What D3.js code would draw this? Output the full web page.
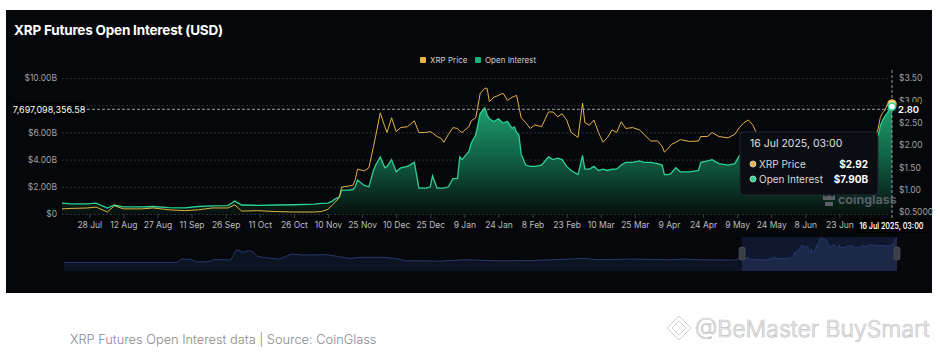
<!DOCTYPE html>
<html>
<head>
<meta charset="utf-8">
<title>XRP Futures Open Interest (USD)</title>
<script src="https://cdn.jsdelivr.net/npm/d3@7"></script>
<style>
  body { margin: 0; background: #fff; }
  svg text { font-family: Inter, "Noto Sans", sans-serif; }
</style>
</head>
<body>
<svg id="chart" width="940" height="355"></svg>
<script>
// values (open interest in billions USD, price in USD)
const dates = ["2024-07-16","2024-07-20","2024-07-27","2024-07-31","2024-08-05","2024-08-08","2024-08-12","2024-08-20","2024-08-25","2024-09-01","2024-09-08","2024-09-14","2024-09-20","2024-09-27","2024-09-30","2024-10-03","2024-10-10","2024-10-18","2024-10-26","2024-11-04","2024-11-07","2024-11-10","2024-11-12","2024-11-13","2024-11-15","2024-11-16","2024-11-19","2024-11-21","2024-11-22","2024-11-23","2024-11-26","2024-11-28","2024-11-30","2024-12-01","2024-12-03","2024-12-05","2024-12-06","2024-12-08","2024-12-10","2024-12-12","2024-12-15","2024-12-18","2024-12-20","2024-12-23","2024-12-25","2024-12-26","2024-12-28","2024-12-30","2024-12-31","2025-01-02","2025-01-04","2025-01-06","2025-01-07","2025-01-08","2025-01-11","2025-01-12","2025-01-14","2025-01-16","2025-01-18","2025-01-19","2025-01-20","2025-01-22","2025-01-24","2025-01-26","2025-01-28","2025-01-30","2025-01-31","2025-02-01","2025-02-02","2025-02-03","2025-02-05","2025-02-07","2025-02-09","2025-02-12","2025-02-15","2025-02-17","2025-02-19","2025-02-21","2025-02-23","2025-02-25","2025-02-28","2025-03-02","2025-03-03","2025-03-05","2025-03-07","2025-03-09","2025-03-11","2025-03-13","2025-03-15","2025-03-17","2025-03-19","2025-03-21","2025-03-24","2025-03-27","2025-03-29","2025-04-01","2025-04-04","2025-04-06","2025-04-07","2025-04-09","2025-04-10","2025-04-12","2025-04-14","2025-04-18","2025-04-22","2025-04-23","2025-04-26","2025-04-28","2025-05-01","2025-05-05","2025-05-08","2025-05-10","2025-05-12","2025-05-14","2025-05-16","2025-05-18","2025-05-25","2025-05-31","2025-06-06","2025-06-12","2025-06-18","2025-06-22","2025-06-28","2025-07-03","2025-07-07","2025-07-09","2025-07-10","2025-07-11","2025-07-12","2025-07-13","2025-07-14","2025-07-15","2025-07-16T03:00"];

const openInterest = [0.80,0.74,0.74,0.80,0.44,0.66,0.52,0.52,0.55,0.47,0.45,0.55,0.60,0.62,0.95,0.66,0.64,0.66,0.68,0.72,0.78,0.80,0.95,1.10,1.25,1.76,1.76,1.80,2.00,2.50,2.10,2.00,3.20,3.60,4.20,3.40,3.50,4.00,3.10,3.40,3.50,3.80,1.90,1.90,2.00,2.80,1.90,1.90,1.90,2.00,2.60,2.60,4.20,4.00,4.60,5.20,5.80,7.40,7.80,7.30,7.00,6.80,7.00,6.70,6.80,6.30,6.40,6.00,5.80,4.40,3.60,3.50,3.50,3.60,4.20,4.00,4.10,4.00,3.50,3.20,2.90,4.30,3.30,3.30,3.50,3.20,3.30,3.20,3.30,3.30,3.60,3.80,3.80,3.90,3.80,3.80,3.70,3.60,2.90,2.90,3.00,3.40,3.10,3.10,3.20,3.80,3.90,4.00,3.70,3.60,3.70,4.30,4.40,4.30,4.20,4.10,4.00,3.90,3.80,4.00,3.80,3.70,3.90,4.10,4.30,5.00,5.70,6.50,6.90,7.20,7.40,7.70,7.90];

const xrpPrice = [0.57,0.58,0.59,0.61,0.50,0.64,0.57,0.57,0.59,0.55,0.53,0.55,0.59,0.59,0.66,0.52,0.53,0.51,0.50,0.50,0.51,0.56,0.66,0.71,0.83,1.06,1.08,1.10,1.22,1.46,1.42,1.49,1.96,2.20,2.72,2.41,2.28,2.61,2.30,2.39,2.41,2.54,2.28,2.28,2.30,2.27,2.19,2.14,2.06,2.24,2.39,2.37,2.31,2.28,2.41,2.54,2.61,3.16,3.27,3.27,2.97,3.07,3.11,3.16,3.00,3.07,3.09,3.11,2.85,2.61,2.50,2.37,2.45,2.41,2.74,2.74,2.63,2.70,2.56,2.28,2.17,2.94,2.50,2.44,2.56,2.28,2.06,2.17,2.34,2.28,2.52,2.37,2.39,2.34,2.24,2.09,2.09,1.97,1.84,1.94,2.01,2.06,2.12,2.08,2.09,2.19,2.19,2.28,2.19,2.16,2.24,2.39,2.50,2.56,2.44,2.20,2.18,2.10,2.12,2.18,2.12,2.00,2.12,2.18,2.20,2.22,2.36,2.62,2.72,2.78,2.90,2.95,2.92];

// longer open interest history shown in the range selector
const navDates = ["2020-03-01","2020-11-21","2020-12-04","2020-12-25","2021-01-08","2021-02-03","2021-02-17","2021-03-29","2021-04-12","2021-04-26","2021-05-10","2021-05-20","2021-05-27","2021-06-12","2021-07-22","2021-08-19","2021-09-14","2021-11-09","2021-12-06","2022-01-02","2022-01-29","2022-03-24","2022-04-21","2022-05-17","2022-08-07","2022-10-01","2022-12-22","2023-03-12","2023-07-12","2023-08-09","2023-10-29","2024-02-01","2024-02-28","2024-04-09","2024-06-29"];
const navOI = [0.25,0.25,0.59,0.55,0.31,0.31,0.51,0.51,2.55,1.82,2.26,2.00,1.10,0.82,0.59,1.43,1.23,1.29,0.98,0.67,0.82,0.82,0.67,0.40,0.37,0.51,0.40,0.43,0.67,0.51,0.59,0.51,0.59,0.51,0.47];

const xTicks = ["2024-07-28","2024-08-12","2024-08-27","2024-09-11","2024-09-26","2024-10-11","2024-10-26","2024-11-10","2024-11-25","2024-12-10","2024-12-25","2025-01-09","2025-01-24","2025-02-08","2025-02-23","2025-03-10","2025-03-25","2025-04-09","2025-04-24","2025-05-09","2025-05-24","2025-06-08","2025-06-23"];
const leftTicks = [0, 2, 4, 6, 8, 10];
// the $8.00B label sits under the crosshair label in the reference
const leftTickLabels = ["$0", "$2.00B", "$4.00B", "$6.00B", "", "$10.00B"];
const rightTicks = [0.5, 1, 1.5, 2, 2.5, 3, 3.5];
const rightTickLabels = ["$0.5000", "$1.00", "$1.50", "$2.00", "$2.50", "$3.00", "$3.50"];
const crosshairValue = 7697098356.58;

const parse = s => s.length > 10 ? d3.utcParse("%Y-%m-%dT%H:%M")(s) : d3.utcParse("%Y-%m-%d")(s);
const rows = dates.map((d, i) => ({date: parse(d), oi: openInterest[i], price: xrpPrice[i]}));
const navRows = navDates.map((d, i) => ({date: parse(d), oi: navOI[i]}))
    .concat(rows.map(r => ({date: r.date, oi: r.oi})));

const svg = d3.select("#chart");

// dark panel
svg.append("rect").attr("x", 6).attr("y", 10).attr("width", 926).attr("height", 283).attr("fill", "#05070b");

svg.append("text").attr("x", 14).attr("y", 35)
    .attr("fill", "#fff").attr("font-size", "13.5px").attr("font-weight", 700).attr("letter-spacing", "-0.2px")
    .text("XRP Futures Open Interest (USD)");

// scales
const x = d3.scaleUtc().domain([rows[0].date, rows[rows.length - 1].date]).range([62, 892]);
const yOI = d3.scaleLinear().domain([0, 10]).range([214, 78]);
const yPrice = d3.scaleLinear().domain([0.5, 3.5]).range([212, 78]);

// gridlines + left axis
const leftAxis = svg.append("g").attr("transform", "translate(62,0)")
    .call(d3.axisLeft(yOI).tickValues(leftTicks).tickSize(-828).tickPadding(5)
        .tickFormat((d, i) => leftTickLabels[i]));
leftAxis.select(".domain").remove();
leftAxis.selectAll("line").attr("stroke", "#2c3037").attr("stroke-dasharray", "2,2");
leftAxis.selectAll("text").attr("fill", "#a0a0a0").attr("font-size", "8.5px");

// right axis
const rightAxis = svg.append("g").attr("transform", "translate(894,0)")
    .call(d3.axisRight(yPrice).tickValues(rightTicks).tickSize(0).tickPadding(5)
        .tickFormat((d, i) => rightTickLabels[i]));
rightAxis.select(".domain").remove();
rightAxis.selectAll("text").attr("fill", "#a0a0a0").attr("font-size", "8.5px");

// bottom axis
const bottomAxis = svg.append("g").attr("transform", "translate(0,214)")
    .call(d3.axisBottom(x).tickValues(xTicks.map(parse)).tickSize(4).tickPadding(4)
        .tickFormat(d3.utcFormat("%-d %b")));
bottomAxis.select(".domain").remove();
bottomAxis.selectAll("line").attr("stroke", "#3a3d44");
bottomAxis.selectAll("text").attr("fill", "#bdbdbd").attr("font-size", "8.5px");

// open interest area
const defs = svg.append("defs");
const grad = defs.append("linearGradient").attr("id", "oiGrad")
    .attr("gradientUnits", "userSpaceOnUse").attr("x1", 0).attr("x2", 0).attr("y1", 100).attr("y2", 214);
grad.append("stop").attr("offset", "0%").attr("stop-color", "#21a675");
grad.append("stop").attr("offset", "55%").attr("stop-color", "#0f5a40");
grad.append("stop").attr("offset", "100%").attr("stop-color", "#06100d");

svg.append("path").datum(rows)
    .attr("fill", "url(#oiGrad)")
    .attr("d", d3.area().x(d => x(d.date)).y0(yOI(0)).y1(d => yOI(d.oi)));
svg.append("path").datum(rows)
    .attr("fill", "none").attr("stroke", "#2bd293").attr("stroke-width", 1.3)
    .attr("d", d3.line().x(d => x(d.date)).y(d => yOI(d.oi)));

// price line
svg.append("path").datum(rows)
    .attr("fill", "none").attr("stroke", "#e3b143").attr("stroke-width", 1)
    .attr("d", d3.line().x(d => x(d.date)).y(d => yPrice(d.price)));

// legend
const legend = [["XRP Price", "#e6b446", 420], ["Open Interest", "#18b37a", 475]];
legend.forEach(([label, color, lx]) => {
    svg.append("rect").attr("x", lx).attr("y", 57).attr("width", 6).attr("height", 6).attr("rx", 1).attr("fill", color);
    svg.append("text").attr("x", lx + 10).attr("y", 63).attr("fill", "#cfcfcf").attr("font-size", "8px").text(label);
});

// coinglass watermark
const wm = svg.append("g").attr("fill", "#5b5f66");
wm.append("path").attr("d", "M823,194 l3,3 l3,-3 l3,3 l3,-3 v6 h-12 z M825,202 h8 v4 h-8 z");
wm.append("text").attr("x", 838).attr("y", 204).attr("font-size", "12.5px").attr("font-weight", 700).text("coinglass");

// crosshair
const last = rows[rows.length - 1];
const cx = x(last.date);
const cy = yOI(crosshairValue / 1e9);
svg.append("line").attr("x1", 62).attr("x2", cx).attr("y1", cy).attr("y2", cy)
    .attr("stroke", "#9c9c9c").attr("stroke-dasharray", "3,2");
svg.append("line").attr("x1", cx).attr("x2", cx).attr("y1", 70).attr("y2", 218)
    .attr("stroke", "#9c9c9c").attr("stroke-dasharray", "3,2");

svg.append("rect").attr("x", 14).attr("y", cy - 7).attr("width", 70).attr("height", 14).attr("fill", "#000");
svg.append("text").attr("x", 49).attr("y", cy + 3.5).attr("text-anchor", "middle")
    .attr("fill", "#fff").attr("font-size", "9px").text(d3.format(",.2f")(crosshairValue));

svg.append("rect").attr("x", 895).attr("y", cy - 7).attr("width", 25).attr("height", 14).attr("fill", "#0b0b0b");
svg.append("text").attr("x", 898).attr("y", cy + 3.5)
    .attr("fill", "#fff").attr("font-size", "9.5px").attr("font-weight", 600).text(yPrice.invert(cy).toFixed(2));

svg.append("rect").attr("x", cx - 36).attr("y", 218).attr("width", 71).attr("height", 15).attr("fill", "#000");
svg.append("text").attr("x", cx - 0.5).attr("y", 229).attr("text-anchor", "middle")
    .attr("fill", "#fff").attr("font-size", "8.5px").attr("font-weight", 600)
    .attr("textLength", 64).attr("lengthAdjust", "spacingAndGlyphs").text("16 Jul 2025, 03:00");

// end markers
svg.append("circle").attr("cx", cx).attr("cy", yPrice(last.price)).attr("r", 4)
    .attr("fill", "#f7e2a4").attr("stroke", "#e6b446").attr("stroke-width", 1.5);
svg.append("circle").attr("cx", cx).attr("cy", yOI(last.oi)).attr("r", 3.6)
    .attr("fill", "#fff").attr("stroke", "#2bd293").attr("stroke-width", 1.6);

// tooltip
const tip = svg.append("g");
tip.append("rect").attr("x", 740).attr("y", 132).attr("width", 138).attr("height", 63).attr("rx", 4)
    .attr("fill", "#0a0d12").attr("stroke", "#23272e");
tip.append("text").attr("x", 750).attr("y", 147).attr("fill", "#e0e0e0").attr("font-size", "10.5px").text("16 Jul 2025, 03:00");
const tipRows = [["XRP Price", "$" + last.price.toFixed(2), "#e6b446", 164], ["Open Interest", "$" + last.oi.toFixed(2) + "B", "#2bd293", 179]];
tipRows.forEach(([label, val, color, ty]) => {
    tip.append("circle").attr("cx", 753).attr("cy", ty).attr("r", 3).attr("fill", color).attr("stroke", "#ddd").attr("stroke-width", 0.8);
    tip.append("text").attr("x", 759).attr("y", ty + 3.5).attr("fill", "#d8d8d8").attr("font-size", "10px").text(label);
    tip.append("text").attr("x", 868).attr("y", ty + 3.5).attr("text-anchor", "end").attr("fill", "#fff")
        .attr("font-size", "10px").attr("font-weight", 700).text(val);
});

// range selector
const nx = d3.scaleUtc().domain([navRows[0].date, last.date]).range([64, 897]);
const ny = d3.scalePow().exponent(0.4).domain([0, 8.1]).range([271, 237]);
const winX = nx(rows[0].date);
svg.append("path").datum(navRows).attr("fill", "#0c1323")
    .attr("d", d3.area().x(d => nx(d.date)).y0(271).y1(d => ny(d.oi)));
svg.append("rect").attr("x", winX).attr("y", 237).attr("width", 897 - winX).attr("height", 34).attr("fill", "#101830");
defs.append("clipPath").attr("id", "win").append("rect")
    .attr("x", winX).attr("y", 230).attr("width", 897 - winX).attr("height", 45);
svg.append("path").datum(navRows).attr("fill", "#1d2849").attr("clip-path", "url(#win)")
    .attr("d", d3.area().x(d => nx(d.date)).y0(271).y1(d => ny(d.oi)));
svg.append("path").datum(navRows).attr("fill", "none").attr("stroke", "#27386a").attr("stroke-width", 1)
    .attr("d", d3.line().x(d => nx(d.date)).y(d => ny(d.oi)));
[winX, 897].forEach(hx => {
    svg.append("rect").attr("x", hx - 3).attr("y", 247).attr("width", 6).attr("height", 13).attr("rx", 2)
        .attr("fill", "#3b3e45").attr("stroke", "#55585f").attr("stroke-width", 0.6);
});

// caption and watermark below the panel
svg.append("text").attr("x", 70).attr("y", 344).attr("fill", "#8a8a8a")
    .attr("font-family", "Roboto").attr("font-weight", 300).attr("font-size", "12.8px")
    .text("XRP Futures Open Interest data | Source: CoinGlass");
const bm = svg.append("g").attr("fill", "none").attr("stroke", "#cfcfcf").attr("stroke-width", 1);
bm.append("path").attr("d", "M679,316 L691,328 L679,340 L667,328 Z M679,321 L686,328 L679,335 L672,328 Z");
svg.append("text").attr("x", 695).attr("y", 337).attr("fill", "#f0f0f0").attr("stroke", "#c4c4c4")
    .attr("stroke-width", 0.7).attr("font-family", "Roboto").attr("font-weight", 300).attr("font-size", "23px")
    .text("@BeMaster BuySmart");
</script>
</body>
</html>
